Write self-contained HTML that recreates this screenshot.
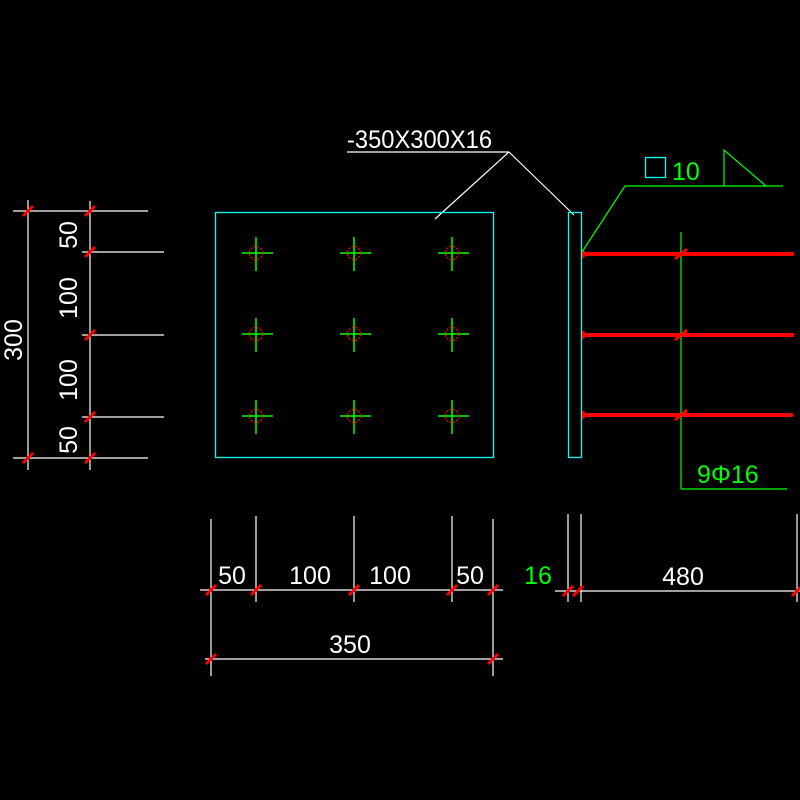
<!DOCTYPE html>
<html><head><meta charset="utf-8"><style>
html,body{margin:0;padding:0;background:#000;}
svg{display:block;}
text{font-family:"Liberation Sans",sans-serif;font-size:25px;}
</style></head><body>
<svg width="800" height="800" viewBox="0 0 800 800" xmlns="http://www.w3.org/2000/svg">
<rect width="800" height="800" fill="#000"/>
<g stroke="#fff" stroke-width="1.2" fill="none">
<!-- left dims -->
<line x1="28" y1="200" x2="28" y2="470"/>
<line x1="90" y1="201" x2="90" y2="470"/>
<line x1="13" y1="211" x2="148" y2="211"/>
<line x1="82" y1="252" x2="164" y2="252"/>
<line x1="82" y1="335" x2="164" y2="335"/>
<line x1="82" y1="417" x2="164" y2="417"/>
<line x1="13" y1="458" x2="148" y2="458"/>
<!-- bottom dims -->
<line x1="200" y1="590" x2="503" y2="590"/>
<line x1="211" y1="519" x2="211" y2="676"/>
<line x1="256" y1="516" x2="256" y2="602"/>
<line x1="354" y1="516" x2="354" y2="602"/>
<line x1="452" y1="516" x2="452" y2="602"/>
<line x1="493" y1="519" x2="493" y2="676"/>
<line x1="205" y1="659" x2="503" y2="659"/>
<line x1="555" y1="591" x2="800" y2="591"/>
<line x1="568" y1="514" x2="568" y2="602"/>
<line x1="581" y1="514" x2="581" y2="602"/>
<line x1="797" y1="514" x2="797" y2="602"/>
<!-- leader -->
<line x1="347" y1="152" x2="509" y2="152"/>
<line x1="509" y1="152" x2="435" y2="219"/>
<line x1="509" y1="152" x2="574" y2="215"/>
</g>
<!-- plates -->
<rect x="215.5" y="212.5" width="278" height="245" fill="none" stroke="#0ff" stroke-width="1.3"/>
<rect x="568.5" y="212.5" width="13" height="245" fill="none" stroke="#0ff" stroke-width="1.3"/>
<!-- bolts -->
<g id="b">
</g>
<g stroke="#0f0" stroke-width="1.5">
<path d="M242 253H273M256 237V271M340 253H371M354 237V271M438 253H469M452 237V271
M242 334H273M256 318V352M340 334H371M354 318V352M438 334H469M452 318V352
M242 416H273M256 400V434M340 416H371M354 400V434M438 416H469M452 400V434"/>
</g>
<g stroke="#f00" stroke-width="1.3" fill="none" stroke-dasharray="2 1.5">
<circle cx="256" cy="253" r="6.5"/><circle cx="354" cy="253" r="6.5"/><circle cx="452" cy="253" r="6.5"/>
<circle cx="256" cy="334" r="6.5"/><circle cx="354" cy="334" r="6.5"/><circle cx="452" cy="334" r="6.5"/>
<circle cx="256" cy="416" r="6.5"/><circle cx="354" cy="416" r="6.5"/><circle cx="452" cy="416" r="6.5"/>
</g>
<!-- rebars -->
<g stroke="#f00" stroke-width="4">
<line x1="582" y1="254" x2="794" y2="254"/>
<line x1="582" y1="335" x2="794" y2="335"/>
<line x1="582" y1="415" x2="793" y2="415"/>
</g>
<g fill="#f00"><path d="M582 249L588 254L582 259Z"/><path d="M582 330L588 335L582 340Z"/><path d="M582 410L588 415L582 420Z"/></g>
<!-- green lines -->
<g stroke="#0f0" stroke-width="1.2" fill="none">
<line x1="681" y1="232" x2="681" y2="489"/>
<line x1="681" y1="489" x2="787" y2="489"/>
<polyline points="582,252 625,186 783,186"/>
<polyline points="724,186 724,150 766,186"/>
</g>
<rect x="645.5" y="157.5" width="20" height="20" fill="none" stroke="#0ff" stroke-width="1.3"/>
<!-- ticks -->
<g stroke="#f00" stroke-width="3">
<path d="M23 216L33 206M85 216L95 206M85 257L95 247M85 340L95 330M85 422L95 412M23 463L33 453M85 463L95 453
M206 595L216 585M251 595L261 585M349 595L359 585M447 595L457 585M488 595L498 585
M206 664L216 654M488 664L498 654M563 596L573 586M573 596L583 586M792 596L802 586
M675 259L687 249M675 340L687 330M675 420L687 410"/>
</g>
<!-- texts -->
<g fill="#fff">
<text x="347" y="148" textLength="145" lengthAdjust="spacingAndGlyphs">-350X300X16</text>
<text x="232" y="584" text-anchor="middle">50</text>
<text x="310" y="584" text-anchor="middle">100</text>
<text x="390" y="584" text-anchor="middle">100</text>
<text x="470" y="584" text-anchor="middle">50</text>
<text x="350" y="653" text-anchor="middle">350</text>
<text x="683" y="585" text-anchor="middle">480</text>
<text transform="translate(22,340) rotate(-90)" text-anchor="middle">300</text>
<text transform="translate(77,235) rotate(-90)" text-anchor="middle">50</text>
<text transform="translate(77,298) rotate(-90)" text-anchor="middle">100</text>
<text transform="translate(77,380) rotate(-90)" text-anchor="middle">100</text>
<text transform="translate(77,440) rotate(-90)" text-anchor="middle">50</text>
</g>
<g fill="#0f0">
<text x="538" y="584" text-anchor="middle">16</text>
<text x="672" y="180">10</text>
<text x="697" y="483">9Φ16</text>
</g>
</svg>
</body></html>
